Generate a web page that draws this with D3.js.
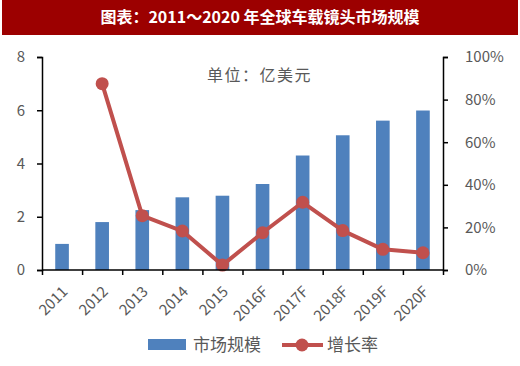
<!DOCTYPE html>
<html><head><meta charset="utf-8">
<script src="https://cdn.jsdelivr.net/npm/d3@7"></script>
<style>body{margin:0;background:#fff}svg{display:block}</style>
</head><body><svg id="c" width="520" height="366"></svg>
<script>
const categories = ["2011","2012","2013","2014","2015","2016F","2017F","2018F","2019F","2020F"];
const marketSize = [0.98,1.80,2.25,2.73,2.79,3.23,4.30,5.06,5.61,5.99];
const growthRate = [null,87.5,25.5,18.3,2.3,17.5,31.8,18.5,9.7,8.1];
const leftTicks = [0,2,4,6,8];
const rightTicks = [0,20,40,60,80,100];

const svg = d3.select("#c");
const font = "'Noto Sans CJK SC', 'Noto Sans', sans-serif";
const grey = "#595959";
const L = 42, R = 443, T = 57, B = 270;

svg.append("rect").attr("x",2).attr("y",0).attr("width",516).attr("height",35).attr("fill","#9c0000");
svg.append("text").attr("x",260).attr("y",23).attr("text-anchor","middle")
  .attr("fill","#fff").attr("font-weight","bold").attr("font-size",16).attr("font-family",font)
  .text("图表：2011～2020 年全球车载镜头市场规模");

const x = d3.scaleBand().domain(categories).range([L,R]).paddingInner(0.66).paddingOuter(0.33);
const yL = d3.scaleLinear().domain([0,8]).range([B,T]);
const yR = d3.scaleLinear().domain([0,100]).range([B,T]);

svg.append("g").selectAll("rect").data(marketSize).join("rect")
  .attr("x",(d,i)=>x(categories[i])).attr("width",x.bandwidth())
  .attr("y",d=>yL(d)).attr("height",d=>B-yL(d)).attr("fill","#4f81bd");

const line = d3.line().defined(d=>d!=null)
  .x((d,i)=>x(categories[i])+x.bandwidth()/2).y(d=>yR(d));
svg.append("path").datum(growthRate).attr("d",line).attr("fill","none")
  .attr("stroke","#c0504d").attr("stroke-width",4).attr("stroke-linejoin","round");
svg.append("g").selectAll("circle").data(growthRate.map((d,i)=>({d,i})).filter(o=>o.d!=null)).join("circle")
  .attr("cx",o=>x(categories[o.i])+x.bandwidth()/2).attr("cy",o=>yR(o.d)).attr("r",6.5).attr("fill","#c0504d");

// axes
const axL = svg.append("g").attr("transform",`translate(${L},0)`)
  .call(d3.axisLeft(yL).tickValues(leftTicks).tickSize(5).tickPadding(12));
const axR = svg.append("g").attr("transform",`translate(${R},0)`)
  .call(d3.axisRight(yR).tickValues(rightTicks).tickSize(5).tickPadding(17).tickFormat(d=>d+"%"));
const xb = d3.scaleLinear().domain([0,10]).range([L,R]);
const axX = svg.append("g").attr("transform",`translate(0,${B})`)
  .call(d3.axisBottom(xb).tickValues(d3.range(11)).tickSize(5).tickFormat(""));
[axL,axR,axX].forEach(g=>{
  g.select(".domain").attr("stroke","#000").attr("stroke-width",1.5);
  g.selectAll(".tick line").attr("stroke","#000").attr("stroke-width",1.5);
  g.selectAll("text").attr("fill",grey).attr("font-size",15).attr("font-family",font);
});
axX.select(".domain").attr("d",`M${L},0H${R}`);

svg.append("g").selectAll("text").data(categories).join("text")
  .attr("transform",d=>`translate(${x(d)+x.bandwidth()/2+3},${B+19}) rotate(-45)`)
  .attr("text-anchor","end").attr("dy","0.35em")
  .attr("fill",grey).attr("font-size",15).attr("font-family",font).text(d=>d);

svg.append("text").attr("x",207).attr("y",81).attr("fill",grey).attr("font-size",16)
  .attr("letter-spacing",1.5).attr("font-family",font).text("单位：亿美元");

// legend
svg.append("rect").attr("x",148).attr("y",339).attr("width",38).attr("height",11).attr("fill","#4f81bd");
svg.append("text").attr("x",193).attr("y",351).attr("fill",grey).attr("font-size",17)
  .attr("font-family",font).text("市场规模");
svg.append("line").attr("x1",282).attr("x2",323).attr("y1",345).attr("y2",345)
  .attr("stroke","#c0504d").attr("stroke-width",4);
svg.append("circle").attr("cx",302).attr("cy",345).attr("r",6.5).attr("fill","#c0504d");
svg.append("text").attr("x",327).attr("y",351).attr("fill",grey).attr("font-size",17)
  .attr("font-family",font).text("增长率");
</script></body></html>
